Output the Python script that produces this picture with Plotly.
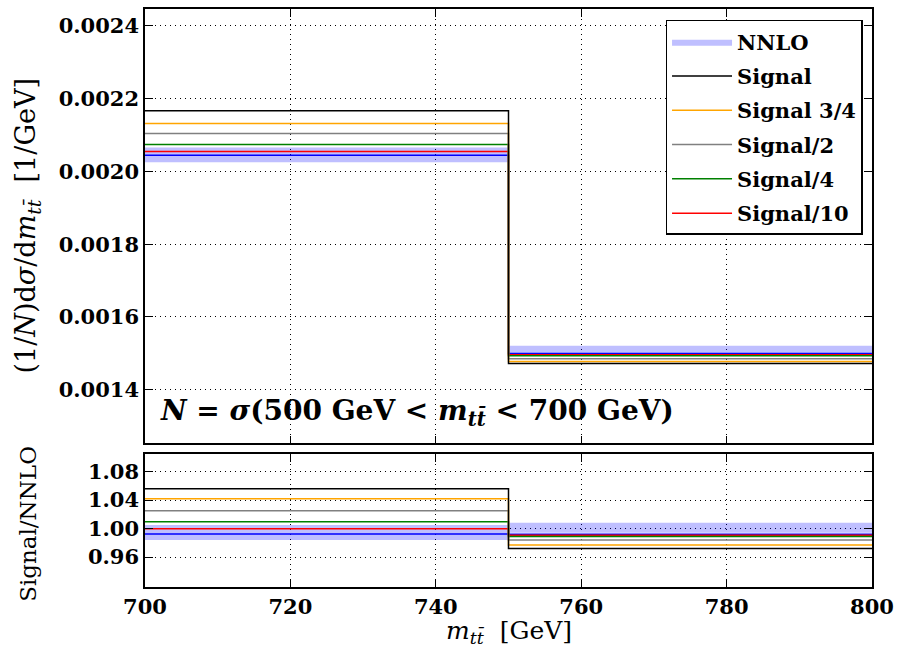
import plotly.graph_objects as go

# ---------------- data ----------------
x_edges = [700, 750, 800]

nnlo = [0.0020446, 0.0014994]
nnlo_up = [0.0020657, 0.0015205]
nnlo_dn = [0.0020255, 0.0014986]

signal = [0.0021671, 0.0014720]
signal_34 = [0.0021315, 0.0014775]
signal_2 = [0.0021041, 0.0014849]
signal_4 = [0.0020740, 0.0014931]
signal_10 = [0.0020548, 0.0014959]

r_nnlo = [0.9925, 0.9920]
r_nnlo_up = [1.0050, 1.0080]
r_nnlo_dn = [0.9840, 0.9940]
r_signal = [1.0560, 0.9720]
r_signal_34 = [1.0420, 0.9770]
r_signal_2 = [1.0250, 0.9840]
r_signal_4 = [1.0095, 0.9887]
r_signal_10 = [0.9996, 0.9907]

main_yticks = [0.0014, 0.0016, 0.0018, 0.0020, 0.0022, 0.0024]
ratio_yticks = [0.96, 1.00, 1.04, 1.08]
xticks = [700, 720, 740, 760, 780, 800]

series = [
    ("Signal/10", signal_10, r_signal_10, "#ff0000"),
    ("Signal/4", signal_4, r_signal_4, "#008000"),
    ("Signal/2", signal_2, r_signal_2, "#808080"),
    ("Signal 3/4", signal_34, r_signal_34, "#ffa500"),
    ("Signal", signal, r_signal, "#000000"),
]
legend_rank = {"Signal": 2, "Signal 3/4": 3, "Signal/2": 4, "Signal/4": 5, "Signal/10": 6}

FONT = "DejaVu Serif"


def step(vals):
    return [vals[0], vals[1], vals[1]]


def band_poly(up, dn):
    xs = [x_edges[0], x_edges[1], x_edges[1], x_edges[2], x_edges[2], x_edges[1], x_edges[1], x_edges[0], x_edges[0]]
    ys = [up[0], up[0], up[1], up[1], dn[1], dn[1], dn[0], dn[0], up[0]]
    return xs, ys


fig = go.Figure()

# NNLO band main
bx, by = band_poly(nnlo_up, nnlo_dn)
fig.add_trace(go.Scatter(x=bx, y=by, fill="toself", mode="lines",
                         fillcolor="rgba(0,0,255,0.25)", line=dict(width=0, color="rgba(0,0,255,0.25)"),
                         name="NNLO", legendrank=1, legendgroup="nnlo", xaxis="x", yaxis="y",
                         hoverinfo="skip"))
fig.add_trace(go.Scatter(x=x_edges, y=step(nnlo), mode="lines", line=dict(color="#0000ff", width=1.5, shape="hv"),
                         showlegend=False, xaxis="x", yaxis="y"))
# NNLO band ratio
bx, by = band_poly(r_nnlo_up, r_nnlo_dn)
fig.add_trace(go.Scatter(x=bx, y=by, fill="toself", mode="lines",
                         fillcolor="rgba(0,0,255,0.25)", line=dict(width=0, color="rgba(0,0,255,0.25)"),
                         showlegend=False, xaxis="x2", yaxis="y2", hoverinfo="skip"))
fig.add_trace(go.Scatter(x=x_edges, y=step(r_nnlo), mode="lines", line=dict(color="#0000ff", width=1.5, shape="hv"),
                         showlegend=False, xaxis="x2", yaxis="y2"))

for name, vals, rvals, col in series:
    fig.add_trace(go.Scatter(x=x_edges, y=step(vals), mode="lines", name=name,
                             line=dict(color=col, width=1.5, shape="hv"),
                             legendrank=legend_rank[name], legendgroup=name, xaxis="x", yaxis="y"))
    fig.add_trace(go.Scatter(x=x_edges, y=step(rvals), mode="lines", showlegend=False,
                             line=dict(color=col, width=1.5, shape="hv"), xaxis="x2", yaxis="y2"))

axis_common = dict(showline=True, linecolor="black", linewidth=1.5, mirror="ticks",
                   ticks="inside", ticklen=8, tickwidth=1, tickcolor="black",
                   showgrid=True, gridcolor="black", gridwidth=1, griddash="1px,4px",
                   zeroline=False,
                   tickfont=dict(family=FONT, size=21, color="black", weight="bold"))

main_dom = [0.2483, 1.0]
ratio_dom = [0.0, 0.2293]

fig.update_layout(
    width=906, height=647,
    margin=dict(l=145, r=34, t=7, b=60),
    paper_bgcolor="white", plot_bgcolor="white",
    showlegend=True,
    legend=dict(x=0.716, y=0.981, xanchor="left", yanchor="top",
                bgcolor="white", bordercolor="black", borderwidth=1.5,
                font=dict(family=FONT, size=21, color="black", weight="bold"),
                traceorder="grouped", tracegroupgap=4, itemwidth=60),
    xaxis=dict(axis_common, range=[700, 800], domain=[0, 1], anchor="y", tickvals=xticks,
               showticklabels=False),
    yaxis=dict(axis_common, range=[0.001252, 0.0024466], domain=main_dom, anchor="x",
               tickvals=main_yticks, tickformat=".4f"),
    xaxis2=dict(axis_common, range=[700, 800], domain=[0, 1], anchor="y2", tickvals=xticks,
                matches="x"),
    yaxis2=dict(axis_common, range=[0.918, 1.104], domain=ratio_dom, anchor="x2",
                tickvals=ratio_yticks, tickformat=".2f"),
)

fig.add_annotation(xref="paper", yref="paper", x=0.018, y=0.3017, xanchor="left", yanchor="middle",
                   text="<b><i>N</i> = <i>σ</i>(500 GeV &lt; <i>m</i><sub><i>tt\u0304</i></sub> &lt; 700 GeV)</b>",
                   showarrow=False, font=dict(family=FONT, size=28, color="black"))

fig.add_annotation(xref="paper", yref="paper", x=-0.162, y=(main_dom[0] + main_dom[1]) / 2,
                   xanchor="center", yanchor="middle", textangle=-90,
                   text="(1/<i>N</i>)d<i>σ</i>/d<i>m</i><sub><i>tt\u0304</i></sub>  [1/GeV]",
                   showarrow=False, font=dict(family=FONT, size=27, color="black"))
fig.add_annotation(xref="paper", yref="paper", x=-0.162, y=(ratio_dom[0] + ratio_dom[1]) / 2 - 0.005,
                   xanchor="center", yanchor="middle", textangle=-90,
                   text="Signal/NNLO",
                   showarrow=False, font=dict(family=FONT, size=23, color="black"))
fig.add_annotation(xref="paper", yref="paper", x=0.5, y=-0.078,
                   xanchor="center", yanchor="middle",
                   text="<i>m</i><sub><i>tt\u0304</i></sub>  [GeV]",
                   showarrow=False, font=dict(family=FONT, size=25, color="black"))

fig.write_html("out.html")
